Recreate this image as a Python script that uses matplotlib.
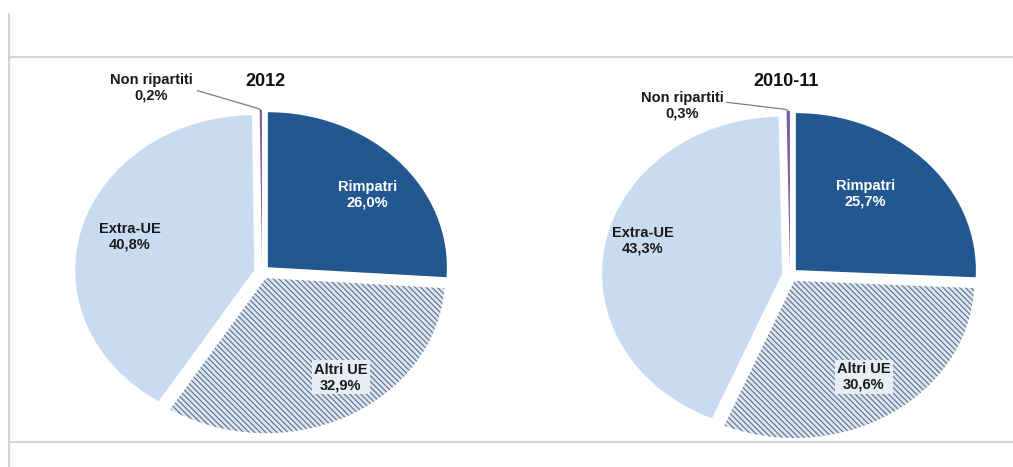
import numpy as np
import matplotlib.pyplot as plt
from matplotlib.lines import Line2D

plt.rcParams['font.family'] = ['Liberation Sans', 'DejaVu Sans']
plt.rcParams['hatch.linewidth'] = 0.8

categories = ['Rimpatri', 'Altri UE', 'Extra-UE', 'Non ripartiti']
periods = ['2012', '2010-11']
shares_2012 = [26.0, 32.9, 40.8, 0.2]
shares_2010_11 = [25.7, 30.6, 43.3, 0.3]

colors = ['#22578f', '#dce5ef', '#c9dbf0', '#7b5ea7']
text_colors = ['white', '#1a1a1a', '#1a1a1a', '#1a1a1a']

W, H = 1013, 467
fig = plt.figure(figsize=(W / 100, H / 100), dpi=100)


def pie_axes(cx, cy, rx, ry):
    # axes box sized in pixels so that one data unit = rx / ry pixels
    return fig.add_axes([(cx - 1.25 * rx) / W, (H - cy - 1.25 * ry) / H,
                         2.5 * rx / W, 2.5 * ry / H])


def fmt(v):
    return f"{v:.1f}".replace('.', ',') + '%'


def draw_pie(ax, title, values, label_pos, title_pos, leader_start):
    wedges, _ = ax.pie(values, colors=colors, startangle=90, counterclock=False,
                       explode=[0.045] * len(values),
                       wedgeprops=dict(linewidth=0))
    ax.set_aspect('auto')
    ax.set_xlim(-1.25, 1.25)
    ax.set_ylim(-1.25, 1.25)

    # hatched slice for the other EU countries
    wedges[1].set_hatch('\\\\\\\\\\\\')
    wedges[1].set_edgecolor('#5a6f8c')

    for i, (name, v) in enumerate(zip(categories, values)):
        x, y = label_pos[i]
        kw = dict(ha='center', va='center', fontsize=10.5, fontweight='bold',
                  color=text_colors[i], linespacing=1.15)
        if i == 1:
            kw['bbox'] = dict(boxstyle='square,pad=0.15', fc='#e6edf5', ec='none')
        ax.text(x, y, f"{name}\n{fmt(v)}", **kw)

    # leader line from the small slice to its label
    w = wedges[3]
    mid = np.deg2rad((w.theta1 + w.theta2) / 2)
    tip = (w.center[0] + np.cos(mid), w.center[1] + np.sin(mid))
    sx, sy = leader_start
    ax.plot([sx, tip[0] - 0.015, tip[0]], [sy, tip[1] + 0.01, tip[1]],
            color='#7a7a8c', lw=0.9, clip_on=False)

    ax.text(title_pos[0], title_pos[1], title, ha='center', va='center',
            fontsize=13, fontweight='bold', color='#111111', clip_on=False)


ax1 = pie_axes(262, 272, 179, 155)
draw_pie(ax1, periods[0], shares_2012,
         [(0.59, 0.50), (0.44, -0.68), (-0.74, 0.23), (-0.62, 1.19)],
         (0.02, 1.23), (-0.36, 1.17))

ax2 = pie_axes(790, 275, 180, 157)
draw_pie(ax2, periods[1], shares_2010_11,
         [(0.42, 0.52), (0.41, -0.65), (-0.82, 0.22), (-0.60, 1.08)],
         (-0.02, 1.23), (-0.35, 1.10))

# light frame lines around the panel
frame = dict(color='#d4d4d4', lw=1.5)
fig.add_artist(Line2D([9 / W, 9 / W], [1 - 14 / H, 0], **frame))
fig.add_artist(Line2D([9 / W, 1], [1 - 57 / H, 1 - 57 / H], **frame))
fig.add_artist(Line2D([9 / W, 1], [1 - 442 / H, 1 - 442 / H], **frame))

fig.savefig('out.png', dpi=100, facecolor='white')
